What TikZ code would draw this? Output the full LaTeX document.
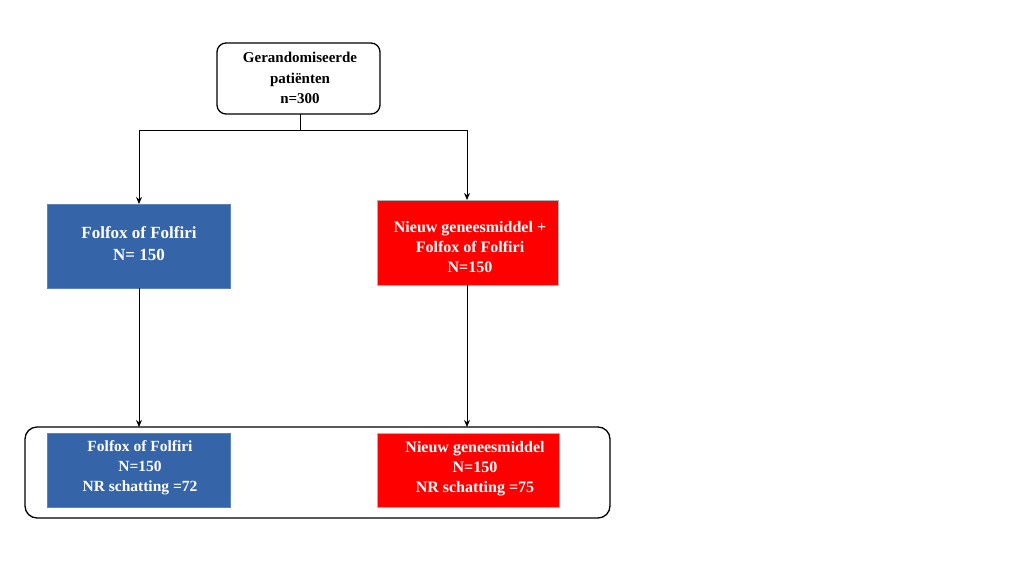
\documentclass[tikz,border=0pt]{standalone}
\usepackage{fontspec}
\setmainfont{Liberation Serif}
\usetikzlibrary{arrows.meta}
\definecolor{boxblue}{HTML}{3565A8}
\definecolor{boxred}{HTML}{FF0000}
\begin{document}
\begin{tikzpicture}[x=1pt,y=-1pt,
  txt/.style={font=\bfseries\fontsize{15}{20.5}\selectfont,align=center,inner sep=0pt},
  bluebox/.style={fill=boxblue,draw=boxblue!80!white,line width=0.6pt,text=white},
  redbox/.style={fill=boxred,draw=gray!60,line width=0.6pt,text=white},
  conn/.style={line width=1pt,-{Stealth[length=7pt,width=6pt]}},
  plain/.style={line width=1pt}]
\useasboundingbox (0,0) rectangle (1024,575);
% top box
\draw[line width=1.3pt,rounded corners=9pt] (217,43) rectangle (380,114);
\node[txt] (top) at (300,78) {Gerandomiseerde\\patiënten\\n=300};
\coordinate (topb) at (300,114);
\coordinate (split) at (300,130);
\coordinate (sl) at (139,130);
\coordinate (sr) at (467,130);
% middle boxes
\draw[bluebox] (47,204) rectangle (230,288);
\node[txt,text=white,font=\bfseries\fontsize{17}{22}\selectfont] (ml) at (139,244) {Folfox of Folfiri\\N= 150};
\draw[redbox] (377,200) rectangle (558,285);
\node[txt,text=white,font=\bfseries\fontsize{16}{20}\selectfont] (mr) at (470,247) {Nieuw geneesmiddel +\\Folfox of Folfiri\\N=150};
\coordinate (mlt) at (139,204);
\coordinate (mrt) at (467,200);
\coordinate (mlb) at (139,288);
\coordinate (mrb) at (467,285);
% bottom container
\draw[line width=1.3pt,rounded corners=12pt] (25,427) rectangle (610,518);
\coordinate (blt) at (139,427);
\coordinate (brt) at (467,427);
\draw[bluebox] (47,433) rectangle (230,507);
\node[txt,text=white,font=\bfseries\fontsize{15.5}{20}\selectfont] (bl) at (140,468) {Folfox of Folfiri\\N=150\\NR schatting =72};
\draw[redbox] (377,433) rectangle (559,507);
\node[txt,text=white,font=\bfseries\fontsize{16}{20}\selectfont] (br) at (475,469) {Nieuw geneesmiddel\\N=150\\NR schatting =75};
% connectors
\draw[plain] (topb) -- (split);
\draw[plain] (sl) -- (sr);
\draw[conn] (sl) -- (mlt);
\draw[conn] (sr) -- (mrt);
\draw[conn] (mlb) -- (blt);
\draw[conn] (mrb) -- (brt);
\end{tikzpicture}
\end{document}
